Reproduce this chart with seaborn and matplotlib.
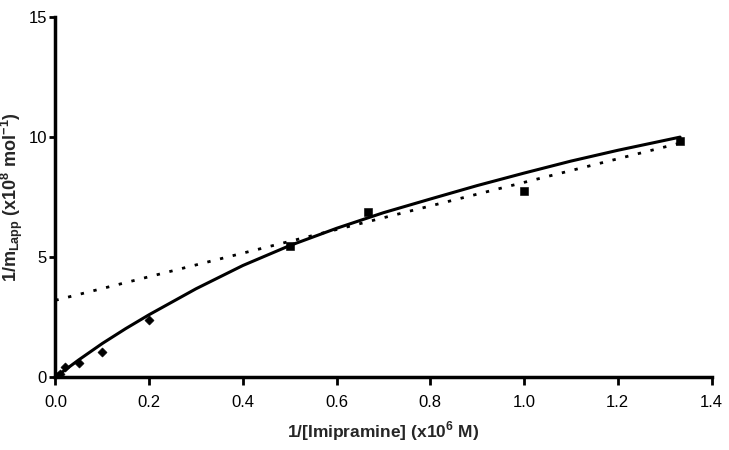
import matplotlib
matplotlib.use("Agg")
import matplotlib.pyplot as plt
import seaborn as sns

# measured points: low concentrations (diamonds) and high concentrations (squares)
x_low = [0.005, 0.01, 0.02, 0.05, 0.1, 0.2]
y_low = [0.05, 0.12, 0.42, 0.58, 1.04, 2.38]
x_high = [0.5, 0.667, 1.0, 1.333]
y_high = [5.45, 6.9, 7.75, 9.83]

# fitted curve (solid)
curve_x = [0.0, 0.05, 0.1, 0.15, 0.2, 0.3, 0.4, 0.5, 0.6, 0.7, 0.8, 0.9, 1.0, 1.1, 1.2, 1.333]
curve_y = [0.0, 0.72, 1.40, 2.02, 2.60, 3.68, 4.65, 5.48, 6.2, 6.85, 7.42, 7.98, 8.5, 9.0, 9.45, 10.0]

# linear fit (dotted)
line_x = [0.0, 1.333]
line_y = [3.2, 9.75]

sns.set_theme(style="ticks")
plt.rcParams["font.family"] = ["Liberation Sans", "DejaVu Sans"]
plt.rcParams["mathtext.fontset"] = "custom"
plt.rcParams["mathtext.rm"] = "Liberation Sans"
plt.rcParams["mathtext.bf"] = "Liberation Sans:bold"

fig = plt.figure(figsize=(7.29, 4.5), dpi=100)
ax = fig.add_axes([0.076, 0.162, 0.9, 0.8])

sns.lineplot(x=curve_x, y=curve_y, ax=ax, color="black", linewidth=2.2, sort=False)
sns.lineplot(x=line_x, y=line_y, ax=ax, color="black", linewidth=2.0,
             linestyle=(0, (1.2, 3.5)))
sns.scatterplot(x=x_low, y=y_low, ax=ax, marker="D", s=22, color="black",
                edgecolor="black", zorder=5)
sns.scatterplot(x=x_high, y=y_high, ax=ax, marker="s", s=26, color="black",
                edgecolor="black", zorder=5)

ax.set_xlim(0, 1.4)
ax.set_ylim(0, 15)
ax.set_xticks([0.0, 0.2, 0.4, 0.6, 0.8, 1.0, 1.2, 1.4])
ax.set_xticklabels(["0.0", "0.2", "0.4", "0.6", "0.8", "1.0", "1.2", "1.4"])
ax.set_yticks([0, 5, 10, 15])
ax.tick_params(axis="both", labelsize=12, width=2, color="black", labelcolor="black")
ax.tick_params(axis="x", length=6, pad=7)
ax.tick_params(axis="y", length=4, pad=2)

sns.despine(ax=ax)
for side in ["left", "bottom"]:
    ax.spines[side].set_linewidth(2.5)
    ax.spines[side].set_color("black")

ax.set_xlabel(r"1/[Imipramine] (x10$^{\mathbf{6}}$ M)", fontsize=12.5, fontweight="bold")
ax.xaxis.set_label_coords(0.5, -0.118)
ax.set_ylabel(r"1/m$_{\mathregular{Lapp}}$ (x10$^{\mathbf{8}}$ mol$^{\mathbf{-1}}$)",
              fontsize=13, fontweight="bold")
ax.yaxis.set_label_coords(-0.046, 0.5)

fig.savefig("out.png", dpi=100, facecolor="white")
